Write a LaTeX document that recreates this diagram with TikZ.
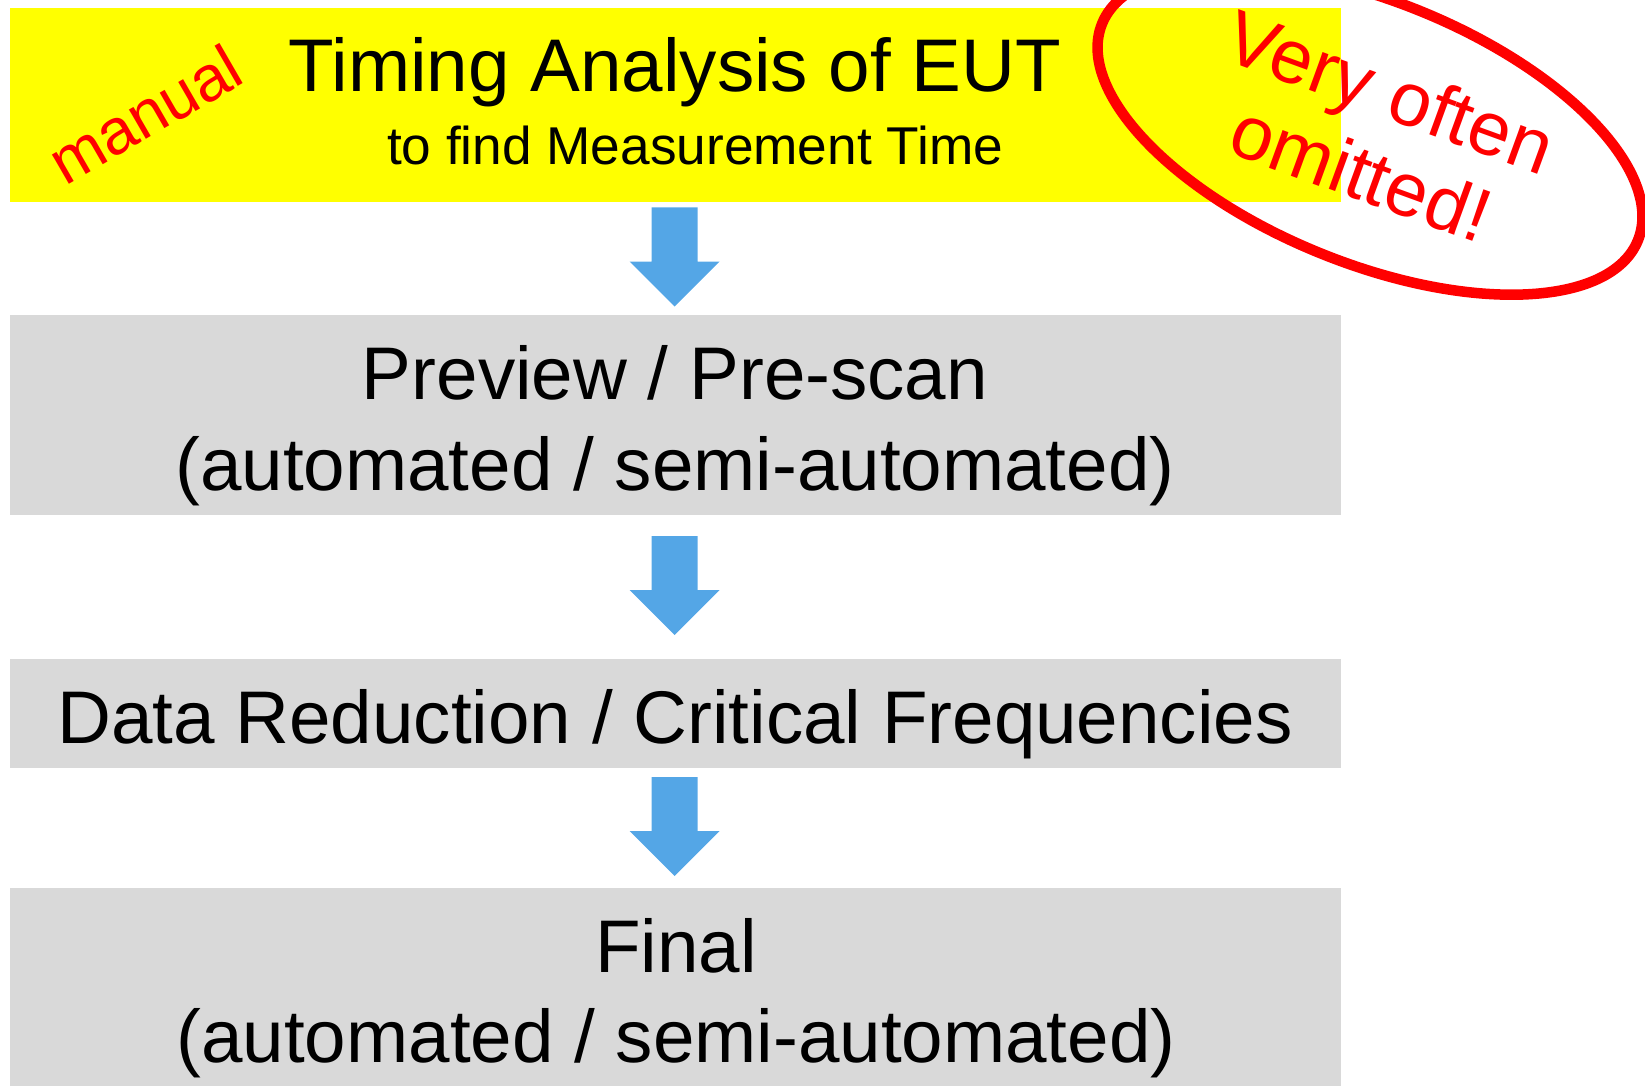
\documentclass[tikz,border=0pt]{standalone}
\usepackage{fontspec}
\setmainfont{Liberation Sans}
\usetikzlibrary{positioning,calc,shapes}
\definecolor{timingyellow}{RGB}{255,255,0}
\definecolor{stagegray}{RGB}{217,217,217}
\definecolor{flowblue}{RGB}{84,166,230}
\definecolor{notered}{RGB}{255,0,0}
\tikzset{
    raw stage box/.style={rectangle, inner sep=0pt, outer sep=0pt, anchor=north west, minimum width=665.5pt},
    timing box/.style={raw stage box, fill=timingyellow},
    stage box/.style={raw stage box, fill=stagegray},
    big text/.style={anchor=base, font=\fontsize{37.3}{44}\selectfont},
    small text/.style={anchor=base, font=\fontsize{26.6}{32}\selectfont},
    red note/.style={text=notered, align=center, inner sep=0pt},
    flow arrow/.style={fill=flowblue}
}
\begin{document}
\begin{tikzpicture}[x=0.5pt, y=-0.5pt]
	\useasboundingbox (0,0) rectangle (1645,1086);
	\clip (0,0) rectangle (1645,1086);
		\node[timing box, minimum height=97pt] (eut) at (10,8) {};
		\node[stage box, minimum height=100pt] (pre) at (10,315) {};
		\node[stage box, minimum height=54.5pt] (red) at (10,659) {};
		\node[stage box, minimum height=99pt] (fin) at (10,888) {};
		\node[big text] (eutT) at (675,92) {Timing Analysis of EUT};
		\node[small text] (eutS) at (695,165) {to find Measurement Time};
		\node[big text] (preT) at (675,399) {Preview / Pre-scan};
		\node[big text] (preS) at (675,490) {(automated / semi-automated)};
		\node[big text] (redT) at (675,743) {Data Reduction / Critical Frequencies};
		\node[big text] (finT) at (676,972) {Final};
		\node[big text] (finS) at (676,1062) {(automated / semi-automated)};
		\foreach \from/\to in {eut/pre, pre/red, red/fin}{
			\coordinate (m) at ($(\from.south)!.5!(\to.north)$);
			\fill[flow arrow] ($(m)+(-24,-51)$) -- ++(46,0) -- ++(0,54) -- ++(22,0)
				-- ($(m)+(-1,48)$) -- ++(-45,-45) -- ++(22,0) -- cycle;
		}
		\node[red note, rotate=30, font=\fontsize{32}{38}\selectfont] (manual) at (145,114) {manual};
		\node[red note, rotate=-20, font=\fontsize{38}{43}\selectfont] (omit) at (1376,132) {Very often\\omitted!};
		\draw[red, line width=5.25pt] ($(omit.center)+(-6,0)$) ellipse [x radius=144.5pt, y radius=65.5pt, rotate=-22];
\end{tikzpicture}
\end{document}
